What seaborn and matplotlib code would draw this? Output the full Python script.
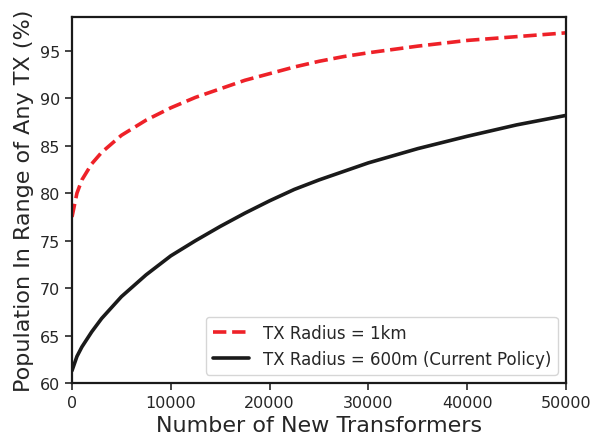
import matplotlib
matplotlib.use("Agg")
import matplotlib.pyplot as plt
import seaborn as sns
import pandas as pd

x_vals = [0, 500, 1000, 2000, 3000, 5000, 7500, 10000, 12500, 15000, 17500,
          20000, 22500, 25000, 27500, 30000, 35000, 40000, 45000, 50000]
radius_1km = [77.5, 80.0, 81.4, 83.1, 84.3, 86.1, 87.7, 89.0, 90.1, 91.0, 91.9,
              92.6, 93.3, 93.9, 94.4, 94.8, 95.5, 96.1, 96.5, 96.9]
radius_600m = [61.3, 62.8, 63.8, 65.4, 66.8, 69.1, 71.4, 73.4, 75.0, 76.5, 77.9,
               79.2, 80.4, 81.4, 82.3, 83.2, 84.7, 86.0, 87.2, 88.2]
labels = ["TX Radius = 1km", "TX Radius = 600m (Current Policy)"]
xticks = [0, 10000, 20000, 30000, 40000, 50000]
yticks = [60, 65, 70, 75, 80, 85, 90, 95]

sns.set_theme(style="ticks")
plt.rcParams['font.family'] = ['DejaVu Sans']

df = pd.DataFrame({
    "x": x_vals * 2,
    "y": radius_1km + radius_600m,
    "series": [labels[0]] * len(x_vals) + [labels[1]] * len(x_vals),
})

fig = plt.figure(figsize=(5.93, 4.35), dpi=100)
ax = fig.add_axes([0.1214, 0.1172, 0.8331, 0.8421])
sns.lineplot(data=df, x="x", y="y", hue="series", style="series",
             palette={labels[0]: "#ee2128", labels[1]: "#1a1a1a"},
             dashes={labels[0]: (3.7, 1.6), labels[1]: ""},
             linewidth=2.6, ax=ax)
ax.set_xlim(0, 50000)
ax.set_ylim(60, 98.6)
ax.set_xticks(xticks)
ax.set_yticks(yticks)
ax.tick_params(labelsize=11.5, width=1.2, length=5)
for s in ax.spines.values():
    s.set_linewidth(1.6)
    s.set_color("#1a1a1a")
ax.set_xlabel("Number of New Transformers", fontsize=16)
ax.set_ylabel("Population In Range of Any TX (%)", fontsize=16)
leg = ax.legend(loc="lower right", fontsize=12, handlelength=2.2)
leg.set_title(None)
fig.savefig("out.png", dpi=100)
